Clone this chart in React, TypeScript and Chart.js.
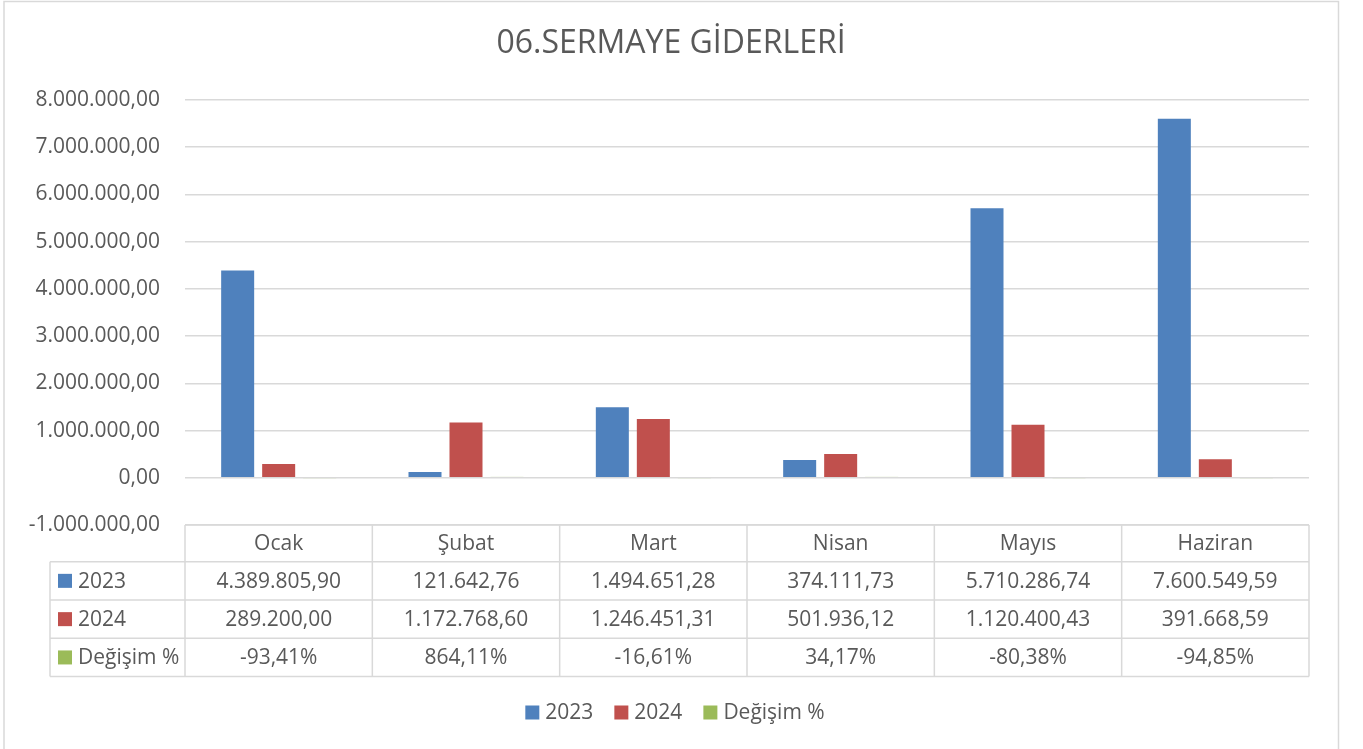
import React, { useEffect, useRef } from "react";
import { Chart, registerables } from "chart.js";

Chart.register(...registerables);

const TITLE = "06.SERMAYE GİDERLERİ";
const CATEGORIES = ["Ocak", "Şubat", "Mart", "Nisan", "Mayıs", "Haziran"];
const SERIES_NAMES = ["2023", "2024", "Değişim %"];
const VALUES_2023 = [4389805.9, 121642.76, 1494651.28, 374111.73, 5710286.74, 7600549.59];
const VALUES_2024 = [289200.0, 1172768.6, 1246451.31, 501936.12, 1120400.43, 391668.59];
const CHANGE_PCT = [-93.41, 864.11, -16.61, 34.17, -80.38, -94.85];
const Y_MIN = -1000000;
const Y_MAX = 8000000;
const Y_STEP = 1000000;

const COLORS = ["#4F81BD", "#C0504D", "#9BBB59"];
const TEXT = "#595959";
const LINE = "#d9d9d9";
const FONT = "'Open Sans', 'Noto Sans', sans-serif";

function fmtNum(v: number): string {
  const neg = v < 0;
  const [i, d] = Math.abs(v).toFixed(2).split(".");
  const ii = i.replace(/\B(?=(\d{3})+(?!\d))/g, ".");
  return (neg ? "-" : "") + ii + "," + d;
}
function fmtPct(v: number): string {
  const neg = v < 0;
  return (neg ? "-" : "") + Math.abs(v).toFixed(2).replace(".", ",") + "%";
}

const W = 1363;
const H = 749;

const decorPlugin = {
  id: "decor",
  beforeDraw(chart: any) {
    const ctx = chart.ctx;
    ctx.save();
    ctx.fillStyle = "#ffffff";
    ctx.fillRect(0, 0, W, H);
    ctx.strokeStyle = LINE;
    ctx.lineWidth = 1.5;
    ctx.strokeRect(4, 1.5, 1334.5, H + 10);
    // title
    ctx.fillStyle = TEXT;
    ctx.font = `32px ${FONT}`;
    ctx.textAlign = "center";
    ctx.textBaseline = "middle";
    ctx.fillText(TITLE, 671, 44);
    ctx.restore();
  },
  afterDraw(chart: any) {
    const ctx = chart.ctx;
    const area = chart.chartArea;
    const x = chart.scales.x;
    const n = CATEGORIES.length;
    const catW = (area.right - area.left) / n;
    const top = area.bottom;
    const headerH = 36.7;
    const rowH = 38.3;
    const leftCol = 50;
    const rowsY = [top + headerH, top + headerH + rowH, top + headerH + 2 * rowH, top + headerH + 3 * rowH];
    ctx.save();
    ctx.strokeStyle = LINE;
    ctx.lineWidth = 1.5;
    ctx.beginPath();
    ctx.moveTo(area.left, top);
    ctx.lineTo(area.right, top);
    for (const ry of rowsY) {
      ctx.moveTo(leftCol, ry);
      ctx.lineTo(area.right, ry);
    }
    for (let i = 0; i <= n; i++) {
      const bx = area.left + i * catW;
      ctx.moveTo(bx, top);
      ctx.lineTo(bx, rowsY[3]);
    }
    ctx.moveTo(leftCol, rowsY[0]);
    ctx.lineTo(leftCol, rowsY[3]);
    ctx.stroke();

    ctx.fillStyle = TEXT;
    ctx.font = `21px ${FONT}`;
    ctx.textAlign = "center";
    ctx.textBaseline = "middle";
    const rows = [
      VALUES_2023.map(fmtNum),
      VALUES_2024.map(fmtNum),
      CHANGE_PCT.map(fmtPct),
    ];
    for (let i = 0; i < n; i++) {
      const cx = x.getPixelForValue(i);
      ctx.fillText(CATEGORIES[i], cx, top + headerH / 2 + 1);
      for (let r = 0; r < 3; r++) {
        const cy = (r === 0 ? rowsY[0] : rowsY[r]) + rowH / 2 + 1;
        ctx.fillText(rows[r][i], cx, cy);
      }
    }
    ctx.textAlign = "left";
    for (let r = 0; r < 3; r++) {
      const cy = rowsY[r] + rowH / 2;
      ctx.fillStyle = COLORS[r];
      ctx.fillRect(58, cy - 7, 14, 14);
      ctx.fillStyle = TEXT;
      ctx.fillText(SERIES_NAMES[r], 78, cy + 1);
    }

    // legend
    const gapBoxText = 6;
    const gapItems = 21;
    const box = 14;
    const widths = SERIES_NAMES.map((s) => ctx.measureText(s).width);
    const total = widths.reduce((a, b) => a + b + box + gapBoxText, 0) + gapItems * (SERIES_NAMES.length - 1);
    let lx = 675 - total / 2;
    const ly = 712.5;
    for (let r = 0; r < SERIES_NAMES.length; r++) {
      ctx.fillStyle = COLORS[r];
      ctx.fillRect(lx, ly - 7, box, box);
      ctx.fillStyle = TEXT;
      ctx.fillText(SERIES_NAMES[r], lx + box + gapBoxText, ly + 1);
      lx += box + gapBoxText + widths[r] + gapItems;
    }
    ctx.restore();
  },
};

export default function App() {
  const ref = useRef<HTMLCanvasElement | null>(null);
  useEffect(() => {
    if (!ref.current) return;
    const chart = new Chart(ref.current, {
      type: "bar",
      data: {
        labels: CATEGORIES,
        datasets: [
          { label: SERIES_NAMES[0], data: VALUES_2023, backgroundColor: COLORS[0] },
          { label: SERIES_NAMES[1], data: VALUES_2024, backgroundColor: COLORS[1] },
          {
            label: SERIES_NAMES[2],
            data: CHANGE_PCT.map((v) => v / 100),
            backgroundColor: "rgba(155,187,89,0.3)",
            minBarLength: 1,
          },
        ],
      },
      plugins: [decorPlugin],
      options: {
        responsive: false,
        animation: false,
        events: [],
        datasets: {
          bar: { categoryPercentage: 0.6566, barPercentage: 0.805 },
        },
        layout: { padding: { top: 100, right: 54, bottom: 224, left: 0 } },
        plugins: {
          legend: { display: false },
          title: { display: false },
          tooltip: { enabled: false },
        },
        scales: {
          x: { display: false, grid: { display: false } },
          y: {
            min: Y_MIN,
            max: Y_MAX,
            afterFit: (s: any) => {
              s.width = 185;
            },
            ticks: {
              stepSize: Y_STEP,
              padding: 25,
              color: TEXT,
              font: { family: FONT, size: 21 },
              callback: (v: any) => fmtNum(Number(v)),
            },
            grid: { color: LINE, lineWidth: 1.5, drawTicks: false },
            border: { display: false },
          },
        },
      },
    } as any);
    return () => chart.destroy();
  }, []);
  return (
    <div style={{ position: "fixed", left: 0, top: 0, width: W, height: H, background: "#fff" }}>
      <canvas ref={ref} width={W} height={H} style={{ display: "block", width: W, height: H }} />
    </div>
  );
}
